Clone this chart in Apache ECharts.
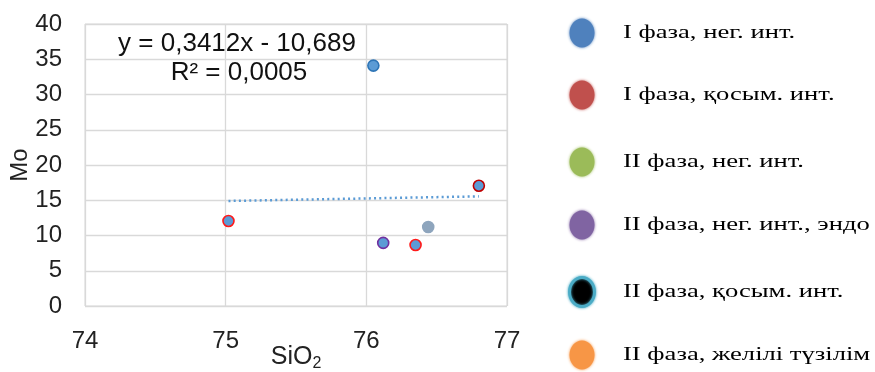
<!DOCTYPE html>
<html>
<head>
<meta charset="utf-8">
<script src="https://cdn.jsdelivr.net/npm/echarts@6/dist/echarts.min.js"></script>
<style>html,body{margin:0;padding:0;background:#fff;}#c{width:875px;height:372px;}</style>
</head>
<body>
<div id="c"></div>
<script>
// Data
var siO2 = [76.05, 75.02, 76.12, 76.35, 76.44, 76.80];
var mo = [34.1, 12.05, 8.95, 8.65, 11.2, 17.05];
var trendX = [75.02, 76.80];
var trendY = [14.9, 15.55];
var legendNames = ['I фаза, нег. инт.', 'I фаза, қосым. инт.', 'II фаза, нег. инт.', 'II фаза, нег. инт., эндо', 'II фаза, қосым. инт.', 'II фаза, желілі түзілім'];
var xTicks = [74, 75, 76, 77];
var yTicks = [0, 5, 10, 15, 20, 25, 30, 35, 40];
var equationText = ['y = 0,3412x - 10,689', 'R² = 0,0005'];

// Styles
var pointBorders = ['#2e75b6', '#ff1a1a', '#7030a0', '#ff1a1a', '#8ea5bd', '#c00000'];
var pointFills = ['#5b9bd5', '#5b9bd5', '#5b9bd5', '#5b9bd5', '#8ea5bd', '#5b9bd5'];
var legendFills = ['#4f81bd', '#c0504d', '#9bbb59', '#8064a2', '#000000', '#f79646'];
var legendBorders = ['#4f81bd', '#c0504d', '#9bbb59', '#8064a2', '#4bacc6', '#f79646'];
var legendY = [33, 95, 162, 225, 292, 355];

var pts = siO2.map(function (x, i) {
  return { value: [x, mo[i]], itemStyle: { color: pointFills[i], borderColor: pointBorders[i], borderWidth: 1.6, opacity: 1 } };
});
var trend = trendX.map(function (x, i) { return [x, trendY[i]]; });

var legendGraphics = [];
legendNames.forEach(function (n, i) {
  legendGraphics.push({
    type: 'ellipse', shape: { cx: 582, cy: legendY[i], rx: 12.5, ry: 14.5 }, silent: true,
    style: { fill: legendFills[i], stroke: legendBorders[i], lineWidth: i === 4 ? 3 : 0,
      shadowBlur: 3, shadowColor: i === 4 ? '#4bacc6' : legendFills[i] }
  });
  legendGraphics.push({
    type: 'text', x: 623, y: legendY[i], scaleX: 1.4, silent: true,
    style: { text: n, x: 0, y: 0, textVerticalAlign: 'middle', textAlign: 'left',
      font: '19px "Liberation Serif"', fill: '#000' }
  });
});

var chart = echarts.init(document.getElementById('c'), null, { renderer: 'canvas' });
chart.setOption({
  animation: false,
  backgroundColor: '#fff',
  grid: { left: 85, right: 368, top: 24, bottom: 66, show: true, borderColor: '#d9d9d9', borderWidth: 1,
    containLabel: false, outerBoundsMode: 'none' },
  xAxis: {
    type: 'value', min: xTicks[0], max: xTicks[xTicks.length - 1], interval: 1,
    name: '{a|SiO}{b|2}', nameLocation: 'middle', nameGap: 36, nameMoveOverlap: false,
    nameTextStyle: { rich: {
      a: { fontFamily: 'Liberation Sans', fontSize: 25, color: '#222' },
      b: { fontFamily: 'Liberation Sans', fontSize: 16, color: '#222', verticalAlign: 'bottom', padding: [14, 0, 0, 0] } } },
    axisLine: { show: false }, axisTick: { show: false },
    axisLabel: { fontFamily: 'Liberation Sans', fontSize: 24, color: '#222', margin: 23 },
    splitLine: { show: true, lineStyle: { color: '#d9d9d9', width: 1.3 } }
  },
  yAxis: {
    type: 'value', min: yTicks[0], max: yTicks[yTicks.length - 1], interval: 5,
    name: 'Mo', nameLocation: 'middle', nameGap: 53, nameRotate: 90, nameMoveOverlap: false,
    nameTextStyle: { fontFamily: 'Liberation Sans', fontSize: 24, color: '#222' },
    axisLine: { show: false }, axisTick: { show: false },
    axisLabel: { fontFamily: 'Liberation Sans', fontSize: 24, color: '#222', margin: 23 },
    splitLine: { show: true, lineStyle: { color: '#d9d9d9', width: 1.3 } }
  },
  series: [
    { type: 'line', data: trend, symbol: 'none', silent: true,
      lineStyle: { color: '#5b9bd5', width: 2.5, type: [2, 3.2] }, z: 3 },
    { type: 'scatter', data: pts, symbolSize: 11, z: 4 }
  ],
  graphic: [
    { type: 'text', silent: true, style: { text: equationText[0], x: 237, y: 44, textAlign: 'center', textVerticalAlign: 'middle', font: '26px "Liberation Sans"', fill: '#111' } },
    { type: 'text', silent: true, style: { text: equationText[1], x: 239, y: 73, textAlign: 'center', textVerticalAlign: 'middle', font: '26px "Liberation Sans"', fill: '#111' } }
  ].concat(legendGraphics)
});
</script>
</body>
</html>
